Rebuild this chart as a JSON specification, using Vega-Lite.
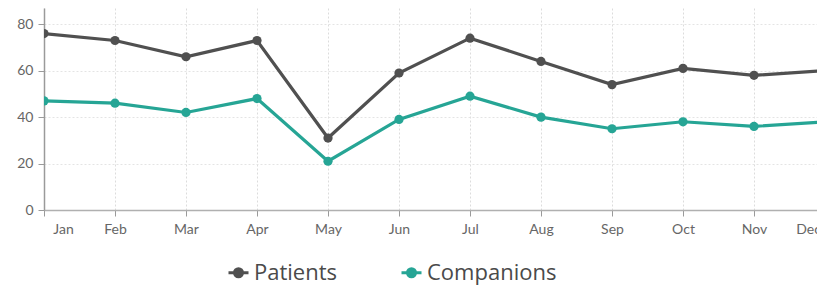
{
  "$schema": "https://vega.github.io/schema/vega-lite/v6.json",
  "autosize": "none",
  "width": 773,
  "height": 202,
  "padding": {"left": 44, "top": 8, "right": 0, "bottom": 77},
  "background": "white",
  "config": {"view": {"stroke": null}},
  "data": {
    "values": [
      {"month": "Jan", "series": "Patients", "value": 76},
      {"month": "Feb", "series": "Patients", "value": 73},
      {"month": "Mar", "series": "Patients", "value": 66},
      {"month": "Apr", "series": "Patients", "value": 73},
      {"month": "May", "series": "Patients", "value": 31},
      {"month": "Jun", "series": "Patients", "value": 59},
      {"month": "Jul", "series": "Patients", "value": 74},
      {"month": "Aug", "series": "Patients", "value": 64},
      {"month": "Sep", "series": "Patients", "value": 54},
      {"month": "Oct", "series": "Patients", "value": 61},
      {"month": "Nov", "series": "Patients", "value": 58},
      {"month": "Dec", "series": "Patients", "value": 60},
      {"month": "Jan", "series": "Companions", "value": 47},
      {"month": "Feb", "series": "Companions", "value": 46},
      {"month": "Mar", "series": "Companions", "value": 42},
      {"month": "Apr", "series": "Companions", "value": 48},
      {"month": "May", "series": "Companions", "value": 21},
      {"month": "Jun", "series": "Companions", "value": 39},
      {"month": "Jul", "series": "Companions", "value": 49},
      {"month": "Aug", "series": "Companions", "value": 40},
      {"month": "Sep", "series": "Companions", "value": 35},
      {"month": "Oct", "series": "Companions", "value": 38},
      {"month": "Nov", "series": "Companions", "value": 36},
      {"month": "Dec", "series": "Companions", "value": 38}
    ]
  },
  "encoding": {
    "x": {
      "field": "month",
      "type": "ordinal",
      "sort": ["Jan","Feb","Mar","Apr","May","Jun","Jul","Aug","Sep","Oct","Nov","Dec"],
      "scale": {"type": "point", "padding": 0, "range": [0, 781]},
      "axis": {
        "title": null,
        "labelAngle": 0,
        "labelFont": "Lato",
        "labelFontSize": 14,
        "labelColor": "#666666",
        "labelPadding": 6,
        "labelFlush": false,
        "labelOverlap": false,
        "labelBound": false,
        "labelOffset": {
          "condition": [
            {"test": "datum.value === 'Jan'", "value": 19},
            {"test": "datum.value === 'Dec'", "value": -17}
          ],
          "value": 0
        },
        "tickColor": "#9a9a9a",
        "tickSize": 6,
        "domainColor": "#b0b0b0",
        "domainWidth": 1.5,
        "grid": true,
        "gridColor": "#dcdcdc",
        "gridDash": [2, 2],
        "gridWidth": 1
      }
    },
    "y": {
      "field": "value",
      "type": "quantitative",
      "scale": {"domain": [0, 87], "nice": false},
      "axis": {
        "title": null,
        "values": [0, 20, 40, 60, 80],
        "labelFont": "Lato",
        "labelFontSize": 14,
        "labelColor": "#666666",
        "labelPadding": 5,
        "tickColor": "#9a9a9a",
        "tickSize": 6,
        "domainColor": "#9a9a9a",
        "domainWidth": 1.5,
        "grid": true,
        "gridColor": "#e4e4e4",
        "gridDash": [2, 2],
        "gridWidth": 1
      }
    },
    "color": {
      "field": "series",
      "type": "nominal",
      "sort": ["Patients", "Companions"],
      "scale": {"domain": ["Patients", "Companions"], "range": ["#505050", "#26a595"]},
      "legend": {
        "title": null,
        "orient": "none",
        "direction": "horizontal",
        "legendX": 183,
        "legendY": 253,
        "labelFont": "Open Sans",
        "labelFontSize": 22,
        "labelColor": "#4a4a4a",
        "labelOffset": 4,
        "columnPadding": 57,
        "symbolType": "M-1,0H1M0.4,0A0.4,0.4,0,1,1,-0.4,0A0.4,0.4,0,1,1,0.4,0Z",
        "symbolSize": 400,
        "symbolStrokeWidth": 3,
        "symbolOpacity": 1
      }
    }
  },
  "layer": [
    {"mark": {"type": "line", "strokeWidth": 3.2, "clip": true}},
    {"mark": {"type": "point", "filled": true, "size": 85, "opacity": 1, "clip": true}}
  ]
}
